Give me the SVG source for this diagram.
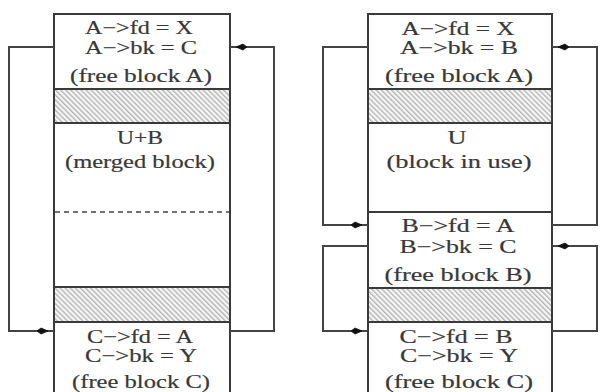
<svg xmlns="http://www.w3.org/2000/svg" width="600" height="392" viewBox="0 0 600 392">
  <style>
    .box { fill: #fff; stroke: #3a3a3a; stroke-width: 2; }
    .dash { stroke: #444; stroke-width: 1.6; stroke-dasharray: 5 4; fill: none; }
    .hatch { fill: url(#diag); stroke: #3a3a3a; stroke-width: 2; }
    .link { fill: none; stroke: #444; stroke-width: 2; marker-end: url(#dot); }
    text { font-family: "Liberation Serif", "Times New Roman", serif; font-size: 18.5px; fill: #383838; stroke: #383838; stroke-width: 0.2; text-anchor: middle; }
  </style>
  <defs>
    <pattern id="diag" patternUnits="userSpaceOnUse" width="3.6" height="3.6" patternTransform="rotate(-45)">
      <rect width="3.6" height="3.6" fill="#f7f7f7"/>
      <line x1="0.8" y1="0" x2="0.8" y2="3.6" stroke="#9a9a9a" stroke-width="1"/>
    </pattern>
    <marker id="dot" markerUnits="userSpaceOnUse" viewBox="0 0 12 8" markerWidth="12" markerHeight="8" refX="17" refY="4" orient="auto" overflow="visible">
      <path d="M0,4 L4,1 L11,4 L4,7 Z" fill="#111" stroke="#111" stroke-width="0.8" stroke-linejoin="round"/>
    </marker>
  </defs>

  <!-- left column: A and merged U+B, then C -->
  <g id="left-A">
    <rect class="box" x="54" y="14" width="176" height="76"/>
    <text x="139" y="34" textLength="108" lengthAdjust="spacingAndGlyphs">A−&gt;fd = X</text>
    <text x="141" y="54" textLength="112" lengthAdjust="spacingAndGlyphs">A−&gt;bk = C</text>
    <text x="141" y="82" textLength="142" lengthAdjust="spacingAndGlyphs">(free block A)</text>
    <rect class="hatch" x="54" y="89" width="176" height="34"/>
  </g>
  <g id="left-UB">
    <rect class="box" x="54" y="123" width="176" height="164"/>
    <text x="140" y="144" textLength="46" lengthAdjust="spacingAndGlyphs">U+B</text>
    <text x="140" y="168" textLength="150" lengthAdjust="spacingAndGlyphs">(merged block)</text>
    <line class="dash" x1="55" y1="212" x2="229" y2="212"/>
    <rect class="hatch" x="54" y="287" width="176" height="35"/>
  </g>
  <g id="left-C">
    <rect class="box" x="54" y="322" width="176" height="80"/>
    <text x="140" y="343" textLength="106" lengthAdjust="spacingAndGlyphs">C−&gt;fd = A</text>
    <text x="141" y="362" textLength="112" lengthAdjust="spacingAndGlyphs">C−&gt;bk = Y</text>
    <text x="141" y="388" textLength="138" lengthAdjust="spacingAndGlyphs">(free block C)</text>
  </g>

  <!-- right column: A, U in use, B, C -->
  <g id="right-A">
    <rect class="box" x="368" y="14" width="184" height="76"/>
    <text x="458" y="35" textLength="113" lengthAdjust="spacingAndGlyphs">A−&gt;fd = X</text>
    <text x="459" y="54" textLength="118" lengthAdjust="spacingAndGlyphs">A−&gt;bk = B</text>
    <text x="459" y="82" textLength="148" lengthAdjust="spacingAndGlyphs">(free block A)</text>
    <rect class="hatch" x="368" y="89" width="184" height="34"/>
  </g>
  <g id="right-U">
    <rect class="box" x="368" y="123" width="184" height="89"/>
    <text x="457" y="144" textLength="19" lengthAdjust="spacingAndGlyphs">U</text>
    <text x="459" y="168" textLength="145" lengthAdjust="spacingAndGlyphs">(block in use)</text>
  </g>
  <g id="right-B">
    <rect class="box" x="368" y="212" width="184" height="76"/>
    <text x="458" y="232" textLength="113" lengthAdjust="spacingAndGlyphs">B−&gt;fd = A</text>
    <text x="458" y="253" textLength="117" lengthAdjust="spacingAndGlyphs">B−&gt;bk = C</text>
    <text x="458" y="281" textLength="147" lengthAdjust="spacingAndGlyphs">(free block B)</text>
    <rect class="hatch" x="368" y="288" width="184" height="34"/>
  </g>
  <g id="right-C">
    <rect class="box" x="368" y="322" width="184" height="80"/>
    <text x="456" y="343" textLength="113" lengthAdjust="spacingAndGlyphs">C−&gt;fd = B</text>
    <text x="459" y="362" textLength="118" lengthAdjust="spacingAndGlyphs">C−&gt;bk = Y</text>
    <text x="459" y="388" textLength="148" lengthAdjust="spacingAndGlyphs">(free block C)</text>
  </g>

  <!-- list pointers -->
  <g id="connectors">
    <path class="link" d="M54,47 H9 V331 H54"/>
    <path class="link" d="M230,331 H274 V47 H230"/>
    <path class="link" d="M368,47 H323 V225 H368"/>
    <path class="link" d="M552,225 H597 V47 H552"/>
    <path class="link" d="M368,246 H323 V331 H368"/>
    <path class="link" d="M552,331 H597 V246 H552"/>
  </g>
</svg>
